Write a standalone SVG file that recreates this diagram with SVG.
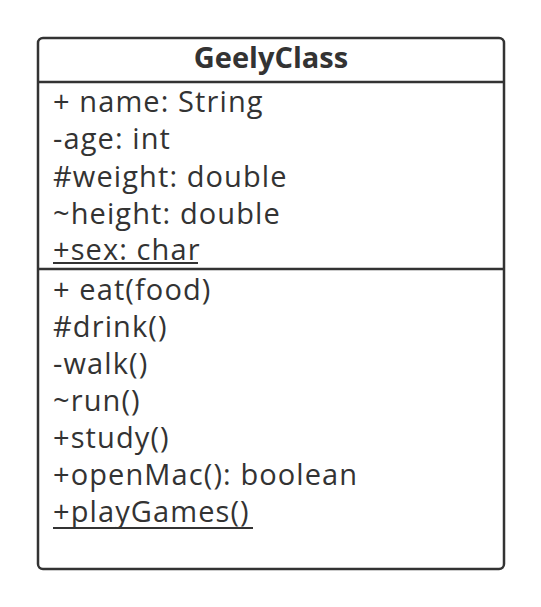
<svg xmlns="http://www.w3.org/2000/svg" width="541" height="607" viewBox="0 0 541 607">
<style>
.t{font-family:"Open Sans","Noto Sans","DejaVu Sans",sans-serif;font-size:29px;letter-spacing:1.1px;fill:#333;}
.b{font-weight:bold;letter-spacing:0;}
.ln{stroke:#333;stroke-width:2.5;fill:none;}
.u{stroke:#333;stroke-width:1.8;}
</style>
<rect width="541" height="607" fill="#fff"/>
<g id="GeelyClass">
<rect class="ln" x="38" y="38" width="466" height="531" rx="5"/>
<line class="ln" x1="38" y1="82" x2="504" y2="82"/>
<line class="ln" x1="38" y1="269" x2="504" y2="269"/>
<text class="t b" x="271" y="68" text-anchor="middle">GeelyClass</text>
<text class="t" x="53" y="112">+ name: String</text>
<text class="t" x="53" y="149">-age: int</text>
<text class="t" x="53" y="187">#weight: double</text>
<text class="t" x="53" y="224">~height: double</text>
<text class="t" x="53" y="260">+sex: char</text>
<line class="u" x1="53" y1="263" x2="198" y2="263"/>
<text class="t" x="53" y="300">+ eat(food)</text>
<text class="t" x="53" y="337">#drink()</text>
<text class="t" x="53" y="374">-walk()</text>
<text class="t" x="53" y="411">~run()</text>
<text class="t" x="53" y="448">+study()</text>
<text class="t" x="53" y="485">+openMac(): boolean</text>
<text class="t" x="53" y="522">+playGames()</text>
<line class="u" x1="53" y1="528" x2="253" y2="528"/>
</g>
<g id="connectors"></g>
</svg>
